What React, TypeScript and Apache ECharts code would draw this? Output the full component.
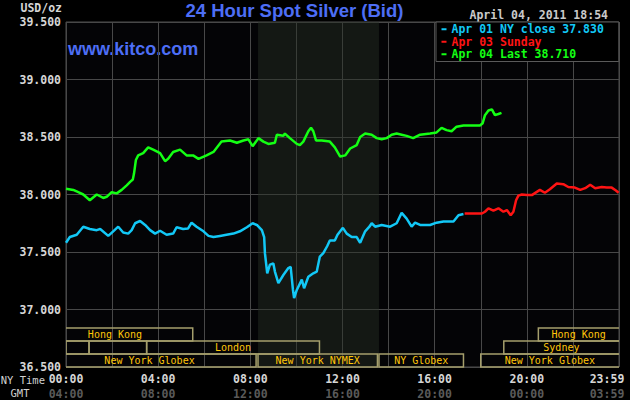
import React, { useEffect, useRef } from "react";
import * as echarts from "echarts";

const TITLE = "24 Hour Spot Silver (Bid)";
const SITE = "www.kitco.com";
const STAMP = "April 04, 2011 18:54";
const UNIT = "USD/oz";
const NY_LABEL = "NY Time";
const GMT_LABEL = "GMT";

const seriesNames = ["Apr 01 NY close 37.830", "Apr 03 Sunday", "Apr 04 Last 38.710"];
const seriesColors = ["#12c8f6", "#ff1414", "#14ff14"];

// [minute of NY day, price]
const apr01: [number, number][] = [
  [0, 37.58], [10, 37.63], [28, 37.65], [45, 37.72], [62, 37.7], [80, 37.69], [89, 37.7],
  [110, 37.64], [123, 37.68], [136, 37.72], [149, 37.67], [162, 37.66], [171, 37.69],
  [180, 37.75], [193, 37.77], [206, 37.735], [219, 37.69], [232, 37.66], [245, 37.685],
  [262, 37.65], [279, 37.66], [288, 37.715], [305, 37.7], [318, 37.705], [327, 37.755],
  [340, 37.72], [358, 37.68], [371, 37.64], [384, 37.63], [401, 37.64], [418, 37.65],
  [436, 37.66], [453, 37.68], [471, 37.715], [486, 37.75], [497, 37.735], [510, 37.69],
  [516, 37.63], [518, 37.49], [524, 37.315], [531, 37.39], [540, 37.4], [544, 37.33],
  [553, 37.23], [566, 37.3], [579, 37.36], [585, 37.37], [591, 37.17], [594, 37.1],
  [601, 37.17], [614, 37.26], [620, 37.185], [631, 37.285], [644, 37.315], [653, 37.33],
  [661, 37.46], [670, 37.49], [680, 37.55], [687, 37.6], [700, 37.6], [707, 37.65],
  [721, 37.71], [731, 37.66], [744, 37.63], [757, 37.63], [766, 37.58], [779, 37.68],
  [790, 37.72], [796, 37.75], [805, 37.72], [822, 37.735], [844, 37.72], [861, 37.75],
  [874, 37.84], [887, 37.79], [900, 37.72], [909, 37.755], [922, 37.735], [948, 37.735],
  [965, 37.755], [983, 37.765], [1009, 37.765], [1022, 37.82], [1035, 37.83],
];

const apr03: [number, number][] = [
  [1038, 37.835], [1083, 37.835], [1091, 37.85], [1100, 37.88], [1113, 37.86], [1126, 37.88],
  [1139, 37.85], [1148, 37.865], [1158, 37.82], [1165, 37.85], [1172, 37.95], [1178, 37.99],
  [1187, 38.0], [1200, 37.995], [1213, 37.995], [1234, 38.04], [1247, 38.015], [1260, 38.045],
  [1278, 38.095], [1295, 38.09], [1308, 38.065], [1325, 38.06], [1339, 38.04], [1352, 38.055],
  [1365, 38.085], [1378, 38.055], [1395, 38.065], [1408, 38.06], [1421, 38.06], [1432, 38.035],
  [1439, 38.015],
];

const apr04: [number, number][] = [
  [0, 38.05], [19, 38.04], [32, 38.02], [45, 38.0], [62, 37.95], [80, 38.0], [97, 37.97],
  [106, 37.98], [119, 38.02], [132, 38.01], [145, 38.04], [158, 38.08], [167, 38.11],
  [174, 38.13], [177, 38.18], [182, 38.3], [188, 38.34], [201, 38.36], [214, 38.41],
  [227, 38.39], [245, 38.36], [258, 38.29], [266, 38.31], [279, 38.37], [297, 38.39],
  [314, 38.34], [331, 38.34], [345, 38.31], [366, 38.34], [384, 38.37], [405, 38.46],
  [427, 38.47], [445, 38.45], [462, 38.47], [475, 38.48], [486, 38.42], [501, 38.49],
  [514, 38.46], [527, 38.44], [544, 38.45], [549, 38.52], [566, 38.51], [570, 38.53],
  [583, 38.49], [601, 38.44], [609, 38.43], [618, 38.46], [631, 38.55], [638, 38.58],
  [644, 38.55], [651, 38.47], [666, 38.47], [687, 38.46], [700, 38.41], [714, 38.33],
  [727, 38.34], [740, 38.4], [757, 38.43], [766, 38.5], [779, 38.53], [796, 38.52],
  [809, 38.49], [822, 38.48], [835, 38.49], [848, 38.52], [861, 38.53], [874, 38.52],
  [887, 38.51], [904, 38.49], [922, 38.52], [948, 38.53], [965, 38.54], [978, 38.58],
  [991, 38.56], [1004, 38.55], [1017, 38.59], [1035, 38.6], [1052, 38.6], [1078, 38.6],
  [1085, 38.62], [1091, 38.69], [1100, 38.73], [1109, 38.74], [1117, 38.69], [1126, 38.7],
  [1134, 38.71],
];

const priceMin = 36.5;
const priceMax = 39.5;
const priceStep = 0.5;
const minuteMin = 0;
const minuteMax = 1440;
const gridStep = 120;
const labelStep = 240;
const gmtOffset = 240;

// session rows, bottom to top
const sessionRows = ["New York", "Europe", "Asia"];
// [row, start minute, end minute, label]
const sessions: [number, number, number, string][] = [
  [2, -75, 330, "Hong Kong"],
  [2, 1230, 1500, "Hong Kong"],
  [1, 0, 60, ""],
  [1, 60, 210, ""],
  [1, 210, 660, "London"],
  [1, 1140, 1500, "Sydney"],
  [0, -60, 495, "New York Globex"],
  [0, 500, 811, "New York NYMEX"],
  [0, 815, 1035, "NY Globex"],
  [0, 1080, 1500, "New York Globex"],
];
const nymexHours: [number, number] = [500, 815];

const MONO = '"DejaVu Sans Mono", monospace';
const SANS = '"Liberation Sans", Arial, sans-serif';

const hhmm = (m: number) => {
  const t = ((m % 1440) + 1440) % 1440;
  const h = Math.floor(t / 60);
  const mm = t % 60;
  return `${String(h).padStart(2, "0")}:${String(mm).padStart(2, "0")}`;
};

const timeStyle = (color: string, extra: any = {}) => ({
  color, fontFamily: MONO, fontWeight: "bold", fontSize: 11.5, lineHeight: 15, ...extra,
});

export default function App() {
  const ref = useRef<HTMLDivElement>(null);

  useEffect(() => {
    document.body.style.margin = "0";
    document.body.style.background = "#000";
    const chart = echarts.init(ref.current!, undefined, { renderer: "svg" });

    const lineSeries = [apr01, apr03, apr04].map((d, i) => ({
      name: seriesNames[i],
      type: "line",
      xAxisIndex: 0,
      yAxisIndex: 0,
      data: d,
      showSymbol: false,
      symbol: "none",
      silent: true,
      lineStyle: { color: seriesColors[i], width: 2.5 },
      itemStyle: { color: seriesColors[i] },
      z: 5,
      ...(i === 0
        ? {
            markArea: {
              silent: true,
              itemStyle: { color: "rgba(40,48,38,0.45)" },
              data: [[{ xAxis: nymexHours[0] }, { xAxis: nymexHours[1] }]],
            },
          }
        : {}),
    }));

    const option: any = {
      animation: false,
      backgroundColor: "#000",
      textStyle: { fontFamily: MONO },
      grid: [
        {
          left: 66, right: 11, top: 22, bottom: 33, outerBoundsMode: "none",
          show: true, backgroundColor: "#040406", borderColor: "#4c4c4c", borderWidth: 1,
        },
        { left: 66, right: 11, top: 328, height: 39, show: false, outerBoundsMode: "none" },
      ],
      xAxis: [
        {
          type: "value", gridIndex: 0, min: minuteMin, max: minuteMax, interval: gridStep,
          axisLine: { show: false }, axisTick: { show: false },
          splitLine: { show: true, lineStyle: { color: "#484848", width: 1 } },
          axisLabel: {
            margin: 4,
            formatter: (v: number) => {
              if (v % labelStep !== 0) return "";
              const last = v >= minuteMax;
              const ny = last ? minuteMax - 1 : v;
              const a = last ? "nyEnd" : "ny";
              const b = last ? "gmtEnd" : "gmt";
              return `{${a}|${hhmm(ny)}}\n{${b}|${hhmm(ny + gmtOffset)}}`;
            },
            rich: {
              ny: timeStyle("#d6d6d6"),
              gmt: timeStyle("#5a5a5a"),
              nyEnd: timeStyle("#d6d6d6", { padding: [0, 24, 0, 0] }),
              gmtEnd: timeStyle("#5a5a5a", { padding: [0, 24, 0, 0] }),
            },
          },
        },
        { type: "value", gridIndex: 1, min: minuteMin, max: minuteMax, show: false },
      ],
      yAxis: [
        {
          type: "value", gridIndex: 0, min: priceMin, max: priceMax, interval: priceStep,
          axisLine: { show: false }, axisTick: { show: false },
          splitLine: { show: true, lineStyle: { color: "#484848", width: 1 } },
          axisLabel: {
            formatter: (v: number) => v.toFixed(3),
            color: "#d6d6d6", fontFamily: MONO, fontWeight: "bold", fontSize: 11.5, margin: 5,
          },
        },
        { type: "category", gridIndex: 1, data: sessionRows, show: false },
      ],
      legend: {
        orient: "vertical",
        left: 436,
        top: 22,
        icon: "rect",
        itemWidth: 5,
        itemHeight: 2,
        itemGap: 0,
        padding: [1, 15, 1, 5.5],
        backgroundColor: "#000",
        borderColor: "#5a5a5a",
        borderWidth: 1,
        borderRadius: 0,
        selectedMode: false,
        textStyle: { fontFamily: MONO, fontWeight: "bold", fontSize: 11.5, lineHeight: 12.5 },
        data: seriesNames.map((n, i) => ({ name: n, textStyle: { color: seriesColors[i] } })),
      },
      series: [
        ...lineSeries,
        {
          type: "custom",
          xAxisIndex: 1,
          yAxisIndex: 1,
          silent: true,
          z: 6,
          data: sessions.map((s) => [s[0], s[1], s[2]]),
          encode: { x: [1, 2], y: 0 },
          renderItem: (params: any, api: any) => {
            const row = api.value(0);
            const s = api.value(1);
            const e = api.value(2);
            const name = sessions[params.dataIndex][3];
            const a = api.coord([s, row]);
            const b = api.coord([e, row]);
            const bVis = api.coord([Math.min(e, minuteMax), row]);
            const h = api.size([0, 1])[1];
            const cs = params.coordSys;
            return {
              type: "group",
              clipPath: { type: "rect", shape: { x: cs.x, y: cs.y - 1, width: cs.width, height: cs.height + 2 } },
              children: [
                {
                  type: "rect",
                  shape: { x: a[0], y: a[1] - h / 2, width: b[0] - a[0], height: h },
                  style: { fill: "none", stroke: "#a59f6c", lineWidth: 1.5 },
                },
                {
                  type: "text",
                  style: {
                    text: name, x: (a[0] + bVis[0]) / 2, y: a[1],
                    align: "center", verticalAlign: "middle",
                    fill: "#ffc60a", fontFamily: MONO, fontSize: 10,
                  },
                },
              ],
            };
          },
        },
      ],
      graphic: [
        {
          type: "text",
          style: {
            text: TITLE, x: 294.5, y: 10.3, align: "center", verticalAlign: "middle",
            fill: "#4d6ef5", fontFamily: SANS, fontWeight: "bold", fontSize: 18.5,
          },
        },
        {
          type: "text",
          style: {
            text: SITE, x: 68, y: 48.8, align: "left", verticalAlign: "middle",
            fill: "#4d6ef5", fontFamily: SANS, fontWeight: "bold", fontSize: 18,
          },
        },
        {
          type: "text",
          style: {
            text: STAMP, x: 608, y: 14.5, align: "right", verticalAlign: "middle",
            fill: "#cacaca", fontFamily: MONO, fontWeight: "bold", fontSize: 11.5,
          },
        },
        {
          type: "text",
          style: {
            text: UNIT, x: 62, y: 8, align: "right", verticalAlign: "middle",
            fill: "#d6d6d6", fontFamily: MONO, fontWeight: "bold", fontSize: 11.5,
          },
        },
        {
          type: "text",
          style: {
            text: NY_LABEL, x: 45, y: 380, align: "right", verticalAlign: "middle",
            fill: "#d0d0d0", fontFamily: MONO, fontSize: 10.5,
          },
        },
        {
          type: "text",
          style: {
            text: GMT_LABEL, x: 20, y: 392.5, align: "center", verticalAlign: "middle",
            fill: "#d0d0d0", fontFamily: MONO, fontSize: 10.5,
          },
        },
      ],
    };

    chart.setOption(option);
    return () => chart.dispose();
  }, []);

  return <div ref={ref} style={{ position: "absolute", left: 0, top: 0, width: 630, height: 400 }} />;
}
